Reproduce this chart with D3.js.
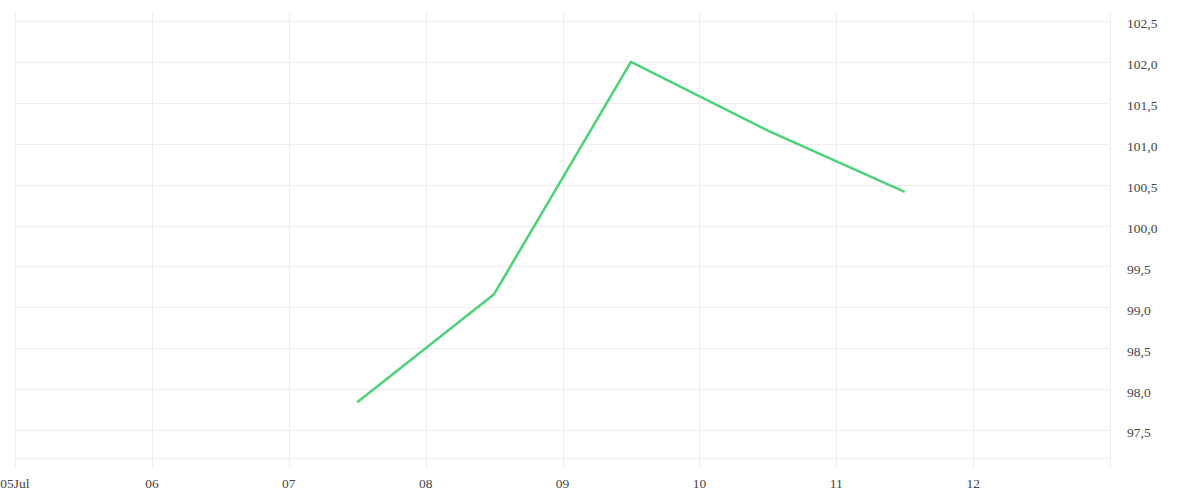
<!DOCTYPE html>
<html>
<head>
<meta charset="utf-8">
<script src="https://d3js.org/d3.v7.min.js"></script>
<style>
  body { margin: 0; background: #fff; }
  text { font-family: "Liberation Serif", serif; font-size: 13.5px; fill: #444; }
</style>
</head>
<body>
<svg id="chart" width="1200" height="500"></svg>
<script>
// chart data
const dates = ["2024-07-07T12:00", "2024-07-08T12:00", "2024-07-09T12:00", "2024-07-10T12:00", "2024-07-11T12:00"];
const values = [97.84, 99.16, 102.0, 101.16, 100.41];
const yTicks = [97.5, 98.0, 98.5, 99.0, 99.5, 100.0, 100.5, 101.0, 101.5, 102.0, 102.5];
const xTickDays = ["2024-07-05", "2024-07-06", "2024-07-07", "2024-07-08", "2024-07-09", "2024-07-10", "2024-07-11", "2024-07-12", "2024-07-13"];
const xTickLabels = ["05Jul", "06", "07", "08", "09", "10", "11", "12", ""];

const plotLeft = 15, plotRight = 1110, plotTop = 12, plotBottom = 458;
const parse = d3.timeParse("%Y-%m-%dT%H:%M");
const parseDay = d3.timeParse("%Y-%m-%d");

const x = d3.scaleTime()
  .domain([parseDay(xTickDays[0]), parseDay(xTickDays[xTickDays.length - 1])])
  .range([plotLeft, plotRight]);
const y = d3.scaleLinear()
  .domain([97.158, 102.61])
  .range([plotBottom, plotTop]);

const locale = d3.formatLocale({ decimal: ",", thousands: ".", grouping: [3], currency: ["", "€"] });
const fmt = locale.format(".1f");

const svg = d3.select("#chart");
const grid = "#ededed";

// horizontal grid lines
svg.append("g").selectAll("line")
  .data(yTicks)
  .join("line")
  .attr("x1", plotLeft).attr("x2", plotRight)
  .attr("y1", d => Math.round(y(d)) + 0.5).attr("y2", d => Math.round(y(d)) + 0.5)
  .attr("stroke", grid);

// baseline
svg.append("line")
  .attr("x1", plotLeft).attr("x2", plotRight)
  .attr("y1", plotBottom + 0.5).attr("y2", plotBottom + 0.5)
  .attr("stroke", grid);

// vertical grid lines with tick extension
const xt = xTickDays.map(parseDay);
svg.append("g").selectAll("line")
  .data(xt)
  .join("line")
  .attr("x1", d => Math.round(x(d)) + 0.5).attr("x2", d => Math.round(x(d)) + 0.5)
  .attr("y1", plotTop).attr("y2", plotBottom + 10)
  .attr("stroke", grid);

// x labels
svg.append("g").selectAll("text")
  .data(xt)
  .join("text")
  .attr("x", d => x(d))
  .attr("y", 488)
  .attr("text-anchor", "middle")
  .text((d, i) => xTickLabels[i]);

// y labels on the right
svg.append("g").selectAll("text")
  .data(yTicks)
  .join("text")
  .attr("x", plotRight + 17)
  .attr("y", d => y(d))
  .attr("dy", "0.55em")
  .text(d => fmt(d));

// series line
const line = d3.line()
  .x((d, i) => x(parse(dates[i])))
  .y(d => y(d));

svg.append("path")
  .datum(values)
  .attr("d", line)
  .attr("fill", "none")
  .attr("stroke", "#4cd279")
  .attr("stroke-width", 2.5)
  .attr("stroke-linejoin", "round");
</script>
</body>
</html>
